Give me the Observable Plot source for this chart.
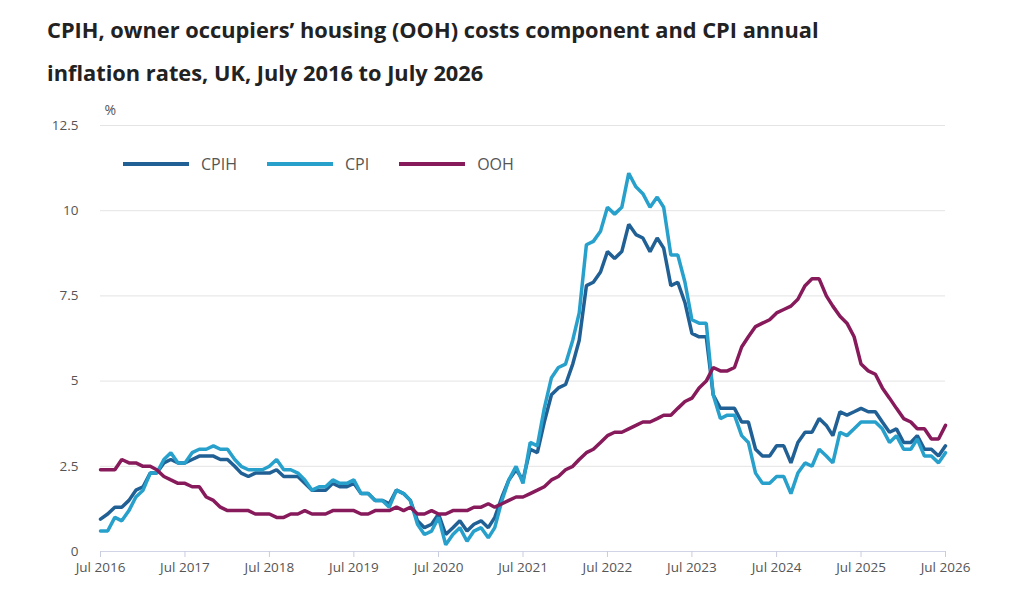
<!DOCTYPE html>
<html><head><meta charset="utf-8">
<script src="https://cdn.jsdelivr.net/npm/d3@7"></script>
<script src="https://cdn.jsdelivr.net/npm/@observablehq/plot@0.6"></script>
<style>
body{margin:0;background:#fff;font-family:"Open Sans",sans-serif;}
#wrap{position:relative;width:1032px;height:603px;}
h1{position:absolute;left:47px;top:8px;margin:0;font-size:21.8px;font-weight:700;color:#222;line-height:43px;white-space:nowrap;}
#chart{position:absolute;left:0;top:100px;}
#legend{position:absolute;left:123px;top:153px;font-size:16px;color:#555;display:flex;}
#legend span{display:flex;align-items:center;margin-right:30px;}
#legend i{display:inline-block;width:66px;height:4px;margin-right:12px;}
</style></head><body>
<div id="wrap">
<h1>CPIH, owner occupiers’ housing (OOH) costs component and CPI annual<br>inflation rates, UK, July 2016 to July 2026</h1>
<div id="chart"></div>
<div id="legend"></div>
</div>
<script>
const cpih = [0.95,1.1,1.3,1.3,1.5,1.8,1.9,2.3,2.3,2.6,2.7,2.6,
2.6,2.7,2.8,2.8,2.8,2.7,2.7,2.5,2.3,2.2,2.3,2.3,
2.3,2.4,2.2,2.2,2.2,2.0,1.8,1.8,1.8,2.0,1.9,1.9,
2.0,1.7,1.7,1.5,1.5,1.4,1.8,1.7,1.5,0.9,0.7,0.8,
1.1,0.5,0.7,0.9,0.6,0.8,0.9,0.7,1.0,1.6,2.1,2.4,
2.1,3.0,2.9,3.8,4.6,4.8,4.9,5.5,6.2,7.8,7.9,8.2,
8.8,8.6,8.8,9.6,9.3,9.2,8.8,9.2,8.9,7.8,7.9,7.3,
6.4,6.3,6.3,4.6,4.2,4.2,4.2,3.8,3.8,3.0,2.8,2.8,
3.1,3.1,2.6,3.2,3.5,3.5,3.9,3.7,3.4,4.1,4.0,4.1,
4.2,4.1,4.1,3.8,3.5,3.6,3.2,3.2,3.4,3.0,3.0,2.8,3.1];
const cpi = [0.6,0.6,1.0,0.9,1.2,1.6,1.8,2.3,2.3,2.7,2.9,2.6,
2.6,2.9,3.0,3.0,3.1,3.0,3.0,2.7,2.5,2.4,2.4,2.4,
2.5,2.7,2.4,2.4,2.3,2.1,1.8,1.9,1.9,2.1,2.0,2.0,
2.1,1.7,1.7,1.5,1.5,1.3,1.8,1.7,1.5,0.8,0.5,0.6,
1.0,0.2,0.5,0.7,0.3,0.6,0.7,0.4,0.7,1.5,2.1,2.5,
2.0,3.2,3.1,4.2,5.1,5.4,5.5,6.2,7.0,9.0,9.1,9.4,
10.1,9.9,10.1,11.1,10.7,10.5,10.1,10.4,10.1,8.7,8.7,7.9,
6.8,6.7,6.7,4.6,3.9,4.0,4.0,3.4,3.2,2.3,2.0,2.0,
2.2,2.2,1.7,2.3,2.6,2.5,3.0,2.8,2.6,3.5,3.4,3.6,
3.8,3.8,3.8,3.6,3.2,3.4,3.0,3.0,3.3,2.8,2.8,2.6,2.9];
const ooh = [2.4,2.4,2.4,2.7,2.6,2.6,2.5,2.5,2.4,2.2,2.1,2.0,
2.0,1.9,1.9,1.6,1.5,1.3,1.2,1.2,1.2,1.2,1.1,1.1,
1.1,1.0,1.0,1.1,1.1,1.2,1.1,1.1,1.1,1.2,1.2,1.2,
1.2,1.1,1.1,1.2,1.2,1.2,1.3,1.2,1.3,1.1,1.1,1.2,
1.1,1.1,1.2,1.2,1.2,1.3,1.3,1.4,1.3,1.4,1.5,1.6,
1.6,1.7,1.8,1.9,2.1,2.2,2.4,2.5,2.7,2.9,3.0,3.2,
3.4,3.5,3.5,3.6,3.7,3.8,3.8,3.9,4.0,4.0,4.2,4.4,
4.5,4.8,5.0,5.4,5.3,5.3,5.4,6.0,6.3,6.6,6.7,6.8,
7.0,7.1,7.2,7.4,7.8,8.0,8.0,7.5,7.2,6.9,6.7,6.3,
5.5,5.3,5.2,4.8,4.5,4.2,3.9,3.8,3.6,3.6,3.3,3.3,3.7];
const seriesNames = ["CPIH","CPI","OOH"];
const seriesColors = ["#206095","#27a0cc","#871a5b"];
const yTicks = [0,2.5,5,7.5,10,12.5];
const months = d3.utcMonth.range(new Date(Date.UTC(2016,6,1)), new Date(Date.UTC(2026,7,1)));
const xTicks = d3.range(2016,2027).map(y=>new Date(Date.UTC(y,6,1)));
const rows = [];
[cpih,cpi,ooh].forEach((arr,i)=>arr.forEach((v,j)=>rows.push({date:months[j],value:v,series:seriesNames[i]})));
const plot = Plot.plot({
  width:1032,height:500,marginTop:25,marginBottom:49,marginLeft:100,marginRight:87,
  style:{fontFamily:"Open Sans",fontSize:"13.5px",color:"#555"},
  x:{type:"utc",domain:[months[0],months[months.length-1]],label:null},
  y:{domain:[0,12.5],label:null},
  color:{domain:seriesNames,range:seriesColors},
  marks:[
    Plot.gridY(yTicks,{stroke:"#e4e4e4",strokeOpacity:1}),
    Plot.ruleY([0],{stroke:"#d0d4e4"}),
    Plot.axisX({ticks:xTicks,tickFormat:d3.utcFormat("Jul %Y"),stroke:"#c8cce0",strokeOpacity:1,tickSize:6,tickPadding:5}),
    Plot.axisY({ticks:yTicks,tickSize:0,tickPadding:22,tickFormat:d=>String(d)}),
    Plot.text(["%"],{frameAnchor:"top-left",dx:4,dy:-20,fontSize:14}),
    Plot.line(rows,{x:"date",y:"value",z:"series",stroke:"series",strokeWidth:3.5,strokeLinejoin:"miter"})
  ]
});
document.getElementById("chart").appendChild(plot);
const lg=document.getElementById("legend");
seriesNames.forEach((n,i)=>{const s=document.createElement("span");s.innerHTML=`<i style="background:${seriesColors[i]}"></i>${n}`;lg.appendChild(s);});
</script></body></html>
